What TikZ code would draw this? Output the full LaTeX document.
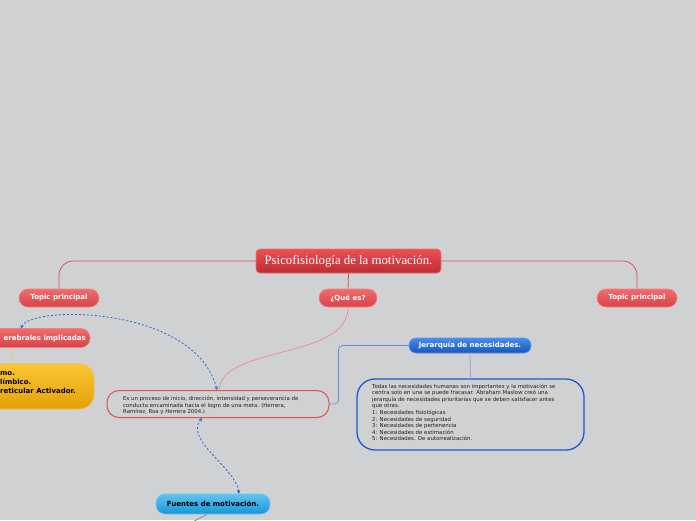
\documentclass[tikz,border=0pt]{standalone}
\usepackage{fontspec}
\setmainfont{DejaVu Sans}
\newfontfamily\titlefont{Liberation Serif}
\usetikzlibrary{arrows.meta}
\definecolor{bg}{RGB}{208,209,211}
\definecolor{redtop}{RGB}{240,108,110}
\definecolor{redbot}{RGB}{216,66,72}
\definecolor{redline}{RGB}{228,78,84}
\definecolor{pinkline}{RGB}{236,140,144}
\definecolor{bluedash}{RGB}{40,100,220}
\definecolor{blueline}{RGB}{95,145,220}
\definecolor{blueedge}{RGB}{25,90,210}
\definecolor{txt}{RGB}{30,30,30}
\tikzset{
  pill/.style={rectangle, rounded corners=9pt, minimum height=18pt, inner sep=0pt,
    top color=redtop, bottom color=redbot, draw={rgb,255:red,244;green,128;blue,130}, line width=0.6pt,
    text=white, font=\bfseries\fontsize{7}{8}\selectfont},
  conn/.style={draw=redline, line width=0.8pt},
  dashconn/.style={draw=bluedash, line width=0.8pt, dash pattern=on 2pt off 2pt,
    {Stealth[length=3.5pt,width=3.5pt]}-{Stealth[length=3.5pt,width=3.5pt]}},
  bodytext/.style={text=txt, align=left, inner sep=0pt, anchor=north west},
}
\begin{document}
\begin{tikzpicture}[x=1pt,y=-1pt]
\useasboundingbox[fill=bg] (0,0) rectangle (696,520);

% main node
\node[rectangle, rounded corners=4pt, minimum width=185pt, minimum height=24pt, inner sep=0pt,
  top color={rgb,255:red,236;green,80;blue,84}, bottom color={rgb,255:red,188;green,44;blue,50},
  draw={rgb,255:red,240;green,110;blue,112}, line width=0.6pt, text=white,
  font=\titlefont\fontsize{12.8}{14}\selectfont] (main) at (348.5,261) {Psicofisiología de la motivación.};

\node[pill, minimum width=80pt] (t1) at (59,298) {Topic principal};
\node[pill, minimum width=58pt] (q) at (348,298) {¿Qué es?};
\node[pill, minimum width=80pt] (t2) at (637,298) {Topic principal};

% partially visible red node
\node[pill, minimum width=112pt, minimum height=19pt] (ce) at (34,338) {};
\node[text=white, font=\bfseries\fontsize{7}{8}\selectfont, anchor=east, inner sep=0pt] (cetext) at (86,338.5) {erebrales implicadas};
\coordinate (ceanchor) at (21,328.5);
\coordinate (cedown) at (12,347.5);

% yellow node
\node[rectangle, rounded corners=15pt, minimum width=116pt, minimum height=45pt, inner sep=0pt,
  top color={rgb,255:red,252;green,198;blue,52}, bottom color={rgb,255:red,226;green,160;blue,10},
  draw={rgb,255:red,248;green,190;blue,40}, line width=0.6pt] (yel) at (36,386.5) {};
\node[anchor=north west, inner sep=0pt, align=left, text=black,
  font=\bfseries\fontsize{7}{9}\selectfont] (yeltext) at (0,371.5) {mo.\\límbico.\\reticular Activador.};

% description node
\node[rectangle, rounded corners=12pt, minimum width=222pt, minimum height=27pt, inner sep=0pt,
  draw=redline, line width=1pt] (desc) at (218,404) {};
\node[bodytext, font=\fontsize{5.4}{6.5}\selectfont] (desctext) at (123,396)
  {Es un proceso de inicio, dirección, intensidad y perseverancia de\\
   conducta encaminada hacia el logro de una meta. (Herrera,\\
   Ramírez, Roa y Herrera 2004.)};

% jerarquia node
\node[rectangle, rounded corners=7pt, minimum width=122pt, minimum height=15pt, inner sep=0pt,
  top color={rgb,255:red,72;green,140;blue,232}, bottom color={rgb,255:red,24;green,84;blue,190},
  draw={rgb,255:red,90;green,150;blue,235}, line width=0.6pt, text=white,
  font=\bfseries\fontsize{7}{8}\selectfont] (jer) at (470,345.5) {Jerarquía de necesidades.};

\node[rectangle, rounded corners=18pt, minimum width=227pt, minimum height=71pt, inner sep=0pt,
  draw=blueedge, line width=1.3pt] (jdesc) at (470.5,414.5) {};
\node[bodytext, font=\fontsize{5.4}{6.6}\selectfont] (jdesctext) at (372,383.5)
  {Todas las necesidades humanas son importantes y la motivación se\\
   centra solo en una se puede fracasar. Abraham Maslow creó una\\
   jerarquía de necesidades prioritarias que se deben satisfacer antes\\
   que otras.\\
   1: Necesidades fisiológicas\\
   2: Necesidades de seguridad\\
   3: Necesidades de pertenencia\\
   4: Necesidades de estimación\\
   5: Necesidades. De autorrealización.};

% fuentes node
\node[rectangle, rounded corners=9pt, minimum width=114pt, minimum height=20pt, inner sep=0pt,
  top color={rgb,255:red,96;green,196;blue,242}, bottom color={rgb,255:red,24;green,150;blue,214},
  draw={rgb,255:red,110;green,200;blue,245}, line width=0.6pt, text=black,
  font=\bfseries\fontsize{7}{8}\selectfont] (fuentes) at (213,504) {Fuentes de motivación.};
\coordinate (fuout) at (186,526);

% connectors
\draw[conn, rounded corners=14pt] (main.west) -| (t1.north);
\draw[conn, rounded corners=14pt] (main.east) -| (t2.north);
\draw[conn] (main.south) -- (q.north);
\draw[draw=pinkline, line width=0.7pt] (q.south) .. controls (348,360) and (222,345) .. ([xshift=1pt]desc.north);
\draw[dashconn] (ceanchor) .. controls (30,305) and (195,305) .. ([xshift=-1pt]desc.north);
\draw[dashconn] ([xshift=-16pt]desc.south) .. controls (184,440) and (236,468) .. ([xshift=26pt]fuentes.north);
\draw[draw=blueline, line width=0.7pt, rounded corners=4pt] (desc.east) -- ++(9,0) |- (jer.west);
\draw[draw={rgb,255:red,130;green,165;blue,225}, line width=0.7pt] (jer.south) -- (jdesc.north);
\draw[draw={rgb,255:red,226;green,204;blue,150}, line width=1pt] (cedown) -- (12,364);
\draw[draw={rgb,255:red,150;green,150;blue,152}, line width=1pt] ([xshift=-6pt]fuentes.south) .. controls (200,518) and (194,521) .. (fuout);
\end{tikzpicture}
\end{document}
